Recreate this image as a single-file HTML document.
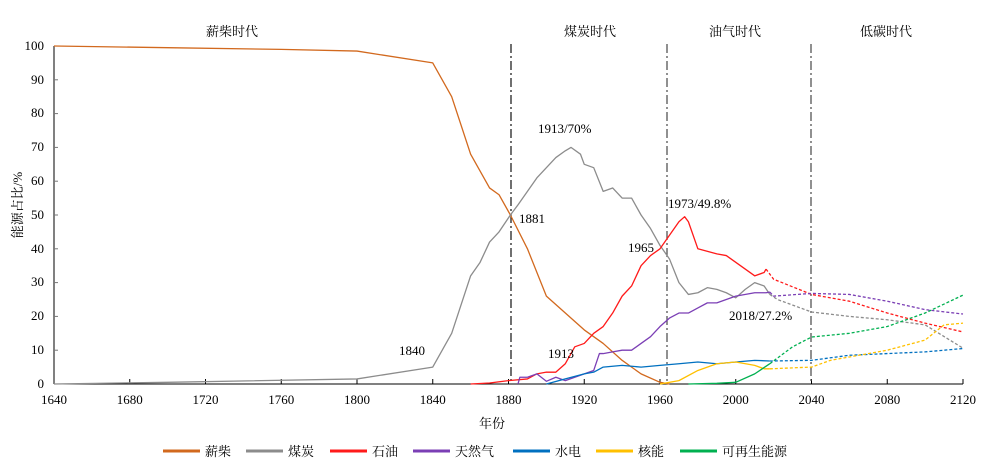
<!DOCTYPE html>
<html><head><meta charset="utf-8"><style>
body{margin:0;background:#fff}
svg{display:block;font-family:"Liberation Serif","Noto Serif CJK SC","Noto Sans CJK SC",serif;font-size:13px}
.l{fill:none;stroke-width:1.3;vector-effect:non-scaling-stroke;stroke-linejoin:round}
.d{stroke-dasharray:3 2}
</style></head><body>
<svg width="984" height="469" viewBox="0 0 984 469">
<rect width="984" height="469" fill="#fff"/>
<!-- axes -->
<line x1="54" y1="46" x2="54" y2="384" stroke="#000"/>
<line x1="54" y1="384" x2="963" y2="384" stroke="#000"/>
<g stroke="#000">
<line x1="129.75" y1="384" x2="129.75" y2="379"/><line x1="205.5" y1="384" x2="205.5" y2="379"/><line x1="281.25" y1="384" x2="281.25" y2="379"/><line x1="357" y1="384" x2="357" y2="379"/><line x1="432.75" y1="384" x2="432.75" y2="379"/><line x1="508.5" y1="384" x2="508.5" y2="379"/><line x1="584.25" y1="384" x2="584.25" y2="379"/><line x1="660" y1="384" x2="660" y2="379"/><line x1="735.75" y1="384" x2="735.75" y2="379"/><line x1="811.5" y1="384" x2="811.5" y2="379"/><line x1="887.25" y1="384" x2="887.25" y2="379"/><line x1="963" y1="384" x2="963" y2="379"/>
</g>
<g stroke="#777">
<line x1="54" y1="350.2" x2="58" y2="350.2"/><line x1="54" y1="316.4" x2="58" y2="316.4"/><line x1="54" y1="282.6" x2="58" y2="282.6"/><line x1="54" y1="248.8" x2="58" y2="248.8"/><line x1="54" y1="215" x2="58" y2="215"/><line x1="54" y1="181.2" x2="58" y2="181.2"/><line x1="54" y1="147.4" x2="58" y2="147.4"/><line x1="54" y1="113.6" x2="58" y2="113.6"/><line x1="54" y1="79.8" x2="58" y2="79.8"/><line x1="54" y1="46" x2="58" y2="46"/>
</g>
<g text-anchor="end">
<text x="44" y="388">0</text><text x="44" y="354">10</text><text x="44" y="320">20</text><text x="44" y="286">30</text><text x="44" y="253">40</text><text x="44" y="219">50</text><text x="44" y="185">60</text><text x="44" y="151">70</text><text x="44" y="117">80</text><text x="44" y="84">90</text><text x="44" y="50">100</text>
</g>
<g text-anchor="middle">
<text x="54" y="404">1640</text><text x="129.75" y="404">1680</text><text x="205.5" y="404">1720</text><text x="281.25" y="404">1760</text><text x="357" y="404">1800</text><text x="432.75" y="404">1840</text><text x="508.5" y="404">1880</text><text x="584.25" y="404">1920</text><text x="660" y="404">1960</text><text x="735.75" y="404">2000</text><text x="811.5" y="404">2040</text><text x="887.25" y="404">2080</text><text x="963" y="404">2120</text>
<text x="492" y="428">年份</text>
<text x="232" y="36">薪柴时代</text><text x="590" y="36">煤炭时代</text><text x="735" y="36">油气时代</text><text x="886" y="36">低碳时代</text>
</g>
<text transform="translate(22,205) rotate(-90)" text-anchor="middle">能源占比/%</text>
<g stroke="#555" stroke-width="1.3" stroke-dasharray="9 3 2 3">
<line x1="511" y1="44" x2="511" y2="384" stroke="#222"/>
<line x1="667" y1="44" x2="667" y2="384"/>
<line x1="811" y1="44" x2="811" y2="384"/>
</g>
<g transform="translate(54,384) scale(1.89375,-3.38) translate(-1640,0)">
<polyline class="l" stroke="#d2691e" points="1640,100 1700,99.5 1760,99 1800,98.5 1840,95 1850,85 1860,68 1870,58 1875,56 1881,50 1890,40 1900,26 1910,21 1920,16 1930,12 1940,7 1950,3 1960,0.5 1965,0"/>
<polyline class="l" stroke="#8c8c8c" points="1640,0 1700,0.5 1800,1.5 1840,5 1850,15 1860,32 1865,36 1870,42 1875,45 1881,50 1885,53 1890,57 1895,61 1900,64 1905,67 1910,69 1913,70 1918,68 1920,65 1925,64 1930,57 1935,58 1940,55 1945,55 1950,50 1955,46 1960,41 1965,37 1970,30 1975,26.5 1980,27 1985,28.5 1990,28 1995,27 2000,25.5 2005,28 2010,30 2015,29 2018,26.5"/>
<polyline class="l d" stroke="#8c8c8c" points="2018,26.5 2022,25 2040,21.3 2060,20 2080,19 2100,17.5 2120,10.6"/>
<polyline class="l" stroke="#ff1a1a" points="1860,0 1870,0.3 1880,1 1890,1.5 1895,3 1900,3.5 1905,3.5 1910,6 1915,11 1920,12 1925,15 1930,17 1935,21 1940,26 1945,29 1950,35 1955,38 1960,40 1965,44 1970,48 1973,49.5 1975,48 1980,40 1990,38.5 1995,38 2000,36 2005,34 2010,32 2015,33 2016,34"/>
<polyline class="l d" stroke="#ff1a1a" points="2016,34 2020,31 2040,26.5 2060,24.5 2080,21 2100,18 2120,15.4"/>
<polyline class="l" stroke="#7b3fb5" points="1885,0 1886,2 1890,2 1895,3 1900,0.8 1905,2 1910,1 1915,2 1920,3 1925,4 1928,9 1930,9 1935,9.5 1940,10 1945,10 1950,12 1955,14 1960,17 1965,19.5 1970,21 1975,21 1980,22.5 1985,24 1990,24 1995,25 2000,26 2010,27 2016,27 2018,27.2"/>
<polyline class="l d" stroke="#7b3fb5" points="2018,27.2 2020,26 2040,26.8 2060,26.5 2080,24.5 2100,22 2120,20.7"/>
<polyline class="l" stroke="#0070c0" points="1900,0 1910,1.5 1920,3 1925,3.5 1930,5 1940,5.5 1950,5 1960,5.5 1970,6 1980,6.5 1990,6 2000,6.5 2010,7 2018,6.8"/>
<polyline class="l d" stroke="#0070c0" points="2018,6.8 2040,7 2060,8.5 2080,9 2100,9.5 2120,10.5"/>
<polyline class="l" stroke="#ffc000" points="1960,0 1970,1 1980,4 1990,6 2000,6.5 2010,5.5 2015,4.5 2018,4.5"/>
<polyline class="l d" stroke="#ffc000" points="2018,4.5 2040,5 2050,7 2060,8 2080,10 2100,13 2110,17.5 2120,18"/>
<polyline class="l" stroke="#00b050" points="1975,0 1990,0.2 2000,0.5 2010,3 2018,6"/>
<polyline class="l d" stroke="#00b050" points="2018,6 2030,11 2040,13.9 2060,15 2080,17 2100,21 2120,26.3"/>
</g>
<text x="538" y="133">1913/70%</text>
<text x="519" y="223">1881</text>
<text x="628" y="252">1965</text>
<text x="668" y="208">1973/49.8%</text>
<text x="729" y="320">2018/27.2%</text>
<text x="399" y="355">1840</text>
<text x="548" y="358">1913</text>
<g stroke-width="3">
<line x1="163" y1="451" x2="200" y2="451" stroke="#d2691e"/>
<line x1="246" y1="451" x2="283" y2="451" stroke="#8c8c8c"/>
<line x1="330" y1="451" x2="367" y2="451" stroke="#ff1a1a"/>
<line x1="413" y1="451" x2="450" y2="451" stroke="#7b3fb5"/>
<line x1="513" y1="451" x2="550" y2="451" stroke="#0070c0"/>
<line x1="596" y1="451" x2="633" y2="451" stroke="#ffc000"/>
<line x1="680" y1="451" x2="717" y2="451" stroke="#00b050"/>
</g>
<text x="205" y="456">薪柴</text>
<text x="288" y="456">煤炭</text>
<text x="372" y="456">石油</text>
<text x="455" y="456">天然气</text>
<text x="555" y="456">水电</text>
<text x="638" y="456">核能</text>
<text x="722" y="456">可再生能源</text>
</svg>
</body></html>
